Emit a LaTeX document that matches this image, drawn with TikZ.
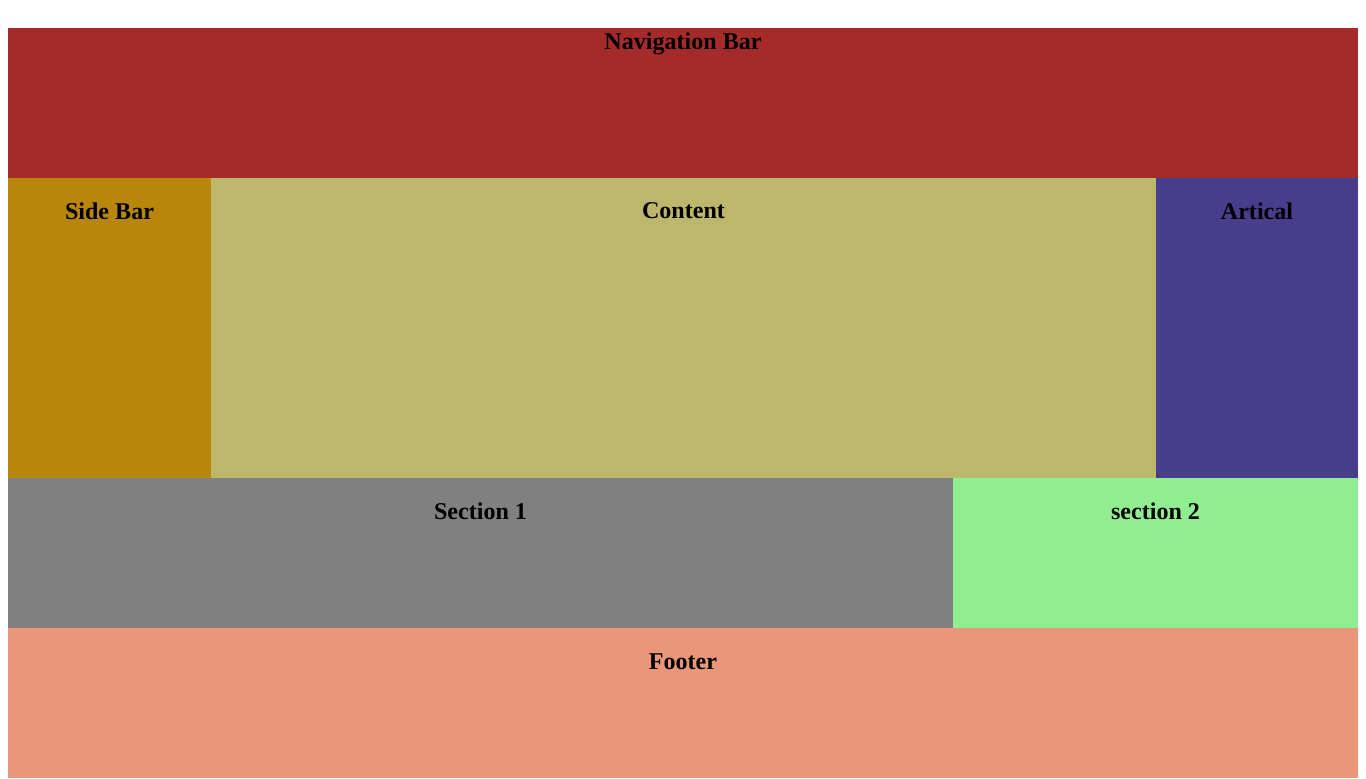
\documentclass[tikz,border=0pt]{standalone}
\usepackage{fontspec}
\setmainfont{Liberation Serif}
\definecolor{navbrown}{HTML}{A52A2A}
\definecolor{sidegold}{HTML}{B8860B}
\definecolor{contkhaki}{HTML}{BDB76B}
\definecolor{artslate}{HTML}{483D8B}
\definecolor{secgray}{HTML}{808080}
\definecolor{seclgreen}{HTML}{90EE90}
\definecolor{footsalmon}{HTML}{E9967A}

\begin{document}
\begin{tikzpicture}[x=0.02cm,y=-0.02cm,
 lab/.style={inner sep=0pt,font=\fontsize{13.7}{16.4}\selectfont\bfseries}]
\useasboundingbox (0,0) rectangle (1366,778);
\fill[navbrown] (8,28) rectangle (1358,178);
\fill[sidegold] (8,178) rectangle (211,478);
\fill[contkhaki] (211,178) rectangle (1156,478);
\fill[artslate] (1156,178) rectangle (1358,478);
\fill[secgray] (8,478) rectangle (953,628);
\fill[seclgreen] (953,478) rectangle (1358,628);
\fill[footsalmon] (8,628) rectangle (1358,778);
\node[lab] (nav) at (683,44) {Navigation Bar};
\node[lab] (side) at (109.5,211) {Side Bar};
\node[lab] (cont) at (683.5,211) {Content};
\node[lab] (art) at (1257,211) {Artical};
\node[lab] (sec1) at (480.5,511) {Section 1};
\node[lab] (sec2) at (1155.5,511) {section 2};
\node[lab] (foot) at (683,662) {Footer};
\end{tikzpicture}
\end{document}
